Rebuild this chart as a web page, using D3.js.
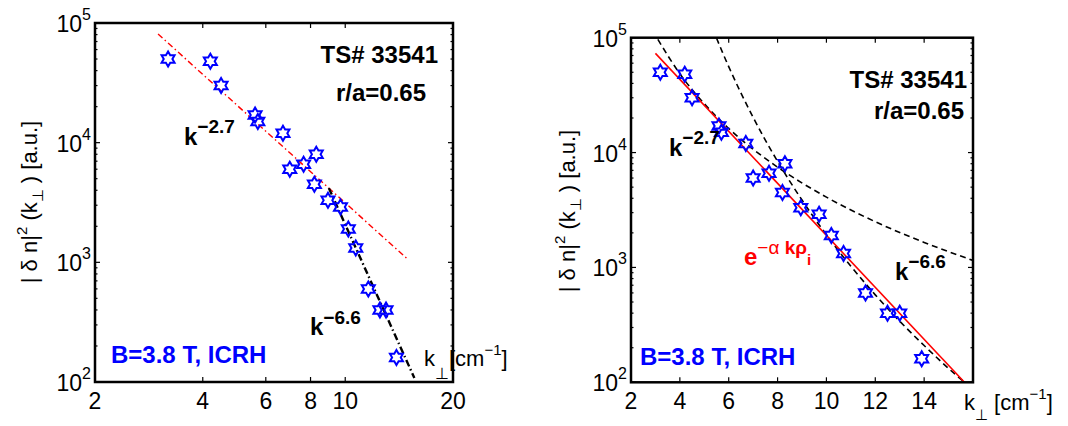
<!DOCTYPE html>
<html>
<head>
<meta charset="utf-8">
<script src="https://cdn.jsdelivr.net/npm/d3@7"></script>
<style>
  body { margin: 0; background: #fff; }
  text { font-family: "Liberation Sans", Arial, Helvetica, sans-serif; }
</style>
</head>
<body>
<svg id="chart" width="1068" height="426"></svg>
<script>
var kPerp = [3.2, 4.2, 4.5, 5.6, 5.7, 6.7, 7.0, 7.65, 8.3, 8.2, 8.95, 9.7, 10.2, 10.7, 11.6, 12.5, 13.0, 13.9];
var dnSpec = [50000, 48000, 30000, 17000, 15000, 12000, 6000, 6600, 8000, 4500, 3300, 2900, 1900, 1320, 600, 400, 400, 160];

// left panel fit lines (straight in log-log, end points)
var fitLow = [[3.0, 80900], [14.85, 1080]];   // k^-2.7
var fitHigh = [[9.0, 4170], [15.6, 108]];     // k^-6.6

// right panel curves
var curveK27 = [[3.1, 96600], [4, 48500], [5, 26600], [6, 16200], [7, 10700], [8, 7470],
  [10, 4090], [12, 2500], [14, 1650], [16, 1150]];
var curveK66 = [[5.5, 99400], [5.75, 74100], [6, 56000], [7, 20250], [8, 8390], [9, 3860],
  [10, 1920], [11, 1025], [12, 577], [13, 340], [14, 209], [15, 132], [15.65, 100]];
var fitExp = [[3.0, 73100], [15.65, 100]];

var xTicksL = [2, 4, 6, 8, 10, 20];
var xTicksR = [2, 4, 6, 8, 10, 12, 14];
var yTicks = [100, 1000, 10000, 100000];
var yExp = ["2", "3", "4", "5"];

var svg = d3.select("#chart");
var blue = "#0000ff", red = "#ff0000";

// six pointed star marker
function hexagram(R) {
  var r = R / Math.sqrt(3), pts = [];
  for (var i = 0; i < 12; i++) {
    var a = -Math.PI / 2 + i * Math.PI / 6, rr = (i % 2) ? r : R;
    pts.push([rr * Math.cos(a), rr * Math.sin(a)]);
  }
  return d3.line()(pts) + "Z";
}
var starPath = hexagram(7.5);

// text with superscript / subscript bits
function richText(g, x, y, parts, opts) {
  var t = g.append("text").attr("x", x).attr("y", y)
    .attr("font-size", opts.size).attr("fill", opts.color || "#000")
    .attr("font-weight", opts.bold ? "bold" : "normal")
    .attr("text-anchor", opts.anchor || "start");
  if (opts.rotate) t.attr("transform", "rotate(-90," + x + "," + y + ")");
  var shift = 0;
  parts.forEach(function(p) {
    var dy = (p.dy || 0) - shift;
    shift = p.dy || 0;
    var s = t.append("tspan").text(p.t).attr("dy", dy);
    if (p.size) s.attr("font-size", p.size);
    if (p.weight) s.attr("font-weight", p.weight);
  });
  return t;
}

function panel(o) {
  var g = svg.append("g");
  var x = o.x, y = o.y;
  var x0 = x.range()[0], x1 = x.range()[1], yb = y.range()[0], yt = y.range()[1];

  g.append("clipPath").attr("id", o.id).append("rect")
    .attr("x", x0).attr("y", yt).attr("width", x1 - x0).attr("height", yb - yt);

  // ticks inside on all four sides
  var tk = g.append("g").attr("stroke", "#000").attr("stroke-width", 1.2);
  o.xTicks.forEach(function(v) {
    tk.append("line").attr("x1", x(v)).attr("x2", x(v)).attr("y1", yb).attr("y2", yb - 5);
    tk.append("line").attr("x1", x(v)).attr("x2", x(v)).attr("y1", yt).attr("y2", yt + 5);
  });
  yTicks.forEach(function(v, i) {
    tk.append("line").attr("x1", x0).attr("x2", x0 + 5).attr("y1", y(v)).attr("y2", y(v));
    tk.append("line").attr("x1", x1).attr("x2", x1 - 5).attr("y1", y(v)).attr("y2", y(v));
    if (i < yTicks.length - 1) {
      d3.range(2, 10).forEach(function(m) {
        var yy = y(v * m);
        tk.append("line").attr("x1", x0).attr("x2", x0 + 2.5).attr("y1", yy).attr("y2", yy);
        tk.append("line").attr("x1", x1).attr("x2", x1 - 2.5).attr("y1", yy).attr("y2", yy);
      });
    }
  });

  // tick labels
  o.xTicks.forEach(function(v) {
    g.append("text").attr("x", x(v)).attr("y", 409).attr("text-anchor", "middle")
      .attr("font-size", 23).text(v);
  });
  yTicks.forEach(function(v, i) {
    richText(g, x0 - 4, y(v) + 9, [{t: "10"}, {t: yExp[i], size: 16, dy: -12}],
      {size: 23, anchor: "end"});
  });

  var plot = g.append("g").attr("clip-path", "url(#" + o.id + ")");
  o.lines.forEach(function(l) {
    plot.append("path").datum(l.data)
      .attr("fill", "none").attr("stroke", l.color).attr("stroke-width", l.width)
      .attr("stroke-dasharray", l.dash)
      .attr("d", d3.line().x(function(d) { return x(d[0]); }).y(function(d) { return y(d[1]); })
        .curve(d3.curveMonotoneX));
  });

  g.append("g").selectAll("path").data(kPerp).enter().append("path")
    .attr("d", starPath)
    .attr("transform", function(d, i) { return "translate(" + x(d) + "," + y(dnSpec[i]) + ")"; })
    .attr("fill", "none").attr("stroke", blue).attr("stroke-width", 2);

  g.append("rect").attr("x", x0).attr("y", yt).attr("width", x1 - x0).attr("height", yb - yt)
    .attr("fill", "none").attr("stroke", "#000").attr("stroke-width", 2.5);

  // y axis title
  richText(g, o.ylabX, o.ylabY, [
    {t: "| δ n|"}, {t: "2", size: 15, dy: -10}, {t: " (k"}, {t: "⊥", size: 15, dy: 6},
    {t: " ) [a.u.]"}], {size: 22, anchor: "middle", rotate: true});
  return g;
}

var xL = d3.scaleLog().domain([2, 20]).range([95, 453]);
var yL = d3.scaleLog().domain([100, 100000]).range([382, 23]);
var xR = d3.scaleLinear().domain([2, 16]).range([631, 973]);
var yR = d3.scaleLog().domain([100, 100000]).range([382.3, 37.7]);

var gL = panel({
  id: "clipL", x: xL, y: yL, xTicks: xTicksL, ylabX: 37, ylabY: 202,
  lines: [
    {data: fitLow, color: red, width: 1.4, dash: "6,3,1.5,3"},
    {data: fitHigh, color: "#000", width: 2.4, dash: "7,3,1.5,3"}
  ]
});
var gR = panel({
  id: "clipR", x: xR, y: yR, xTicks: xTicksR, ylabX: 575, ylabY: 211,
  lines: [
    {data: curveK27, color: "#000", width: 1.6, dash: "6,4"},
    {data: curveK66, color: "#000", width: 1.6, dash: "6,4"},
    {data: fitExp, color: red, width: 1.6, dash: null}
  ]
});

// left annotations
var bold = {size: 24, bold: true};
richText(gL, 438, 63, [{t: "TS# 33541"}], {size: 24, bold: true, anchor: "end"});
richText(gL, 426, 101, [{t: "r/a=0.65"}], {size: 24, bold: true, anchor: "end"});
richText(gL, 184, 145, [{t: "k"}, {t: "−2.7", size: 19, dy: -12}], bold);
richText(gL, 310, 335, [{t: "k"}, {t: "−6.6", size: 19, dy: -11}], bold);
richText(gL, 111, 363, [{t: "B=3.8 T, ICRH"}], {size: 24, bold: true, color: blue});
richText(gL, 424, 366, [{t: "k"}, {t: "⊥", size: 16, dy: 13}, {t: "[cm"},
  {t: "−1", size: 15, dy: -11}, {t: "]"}], {size: 22});

// right annotations
richText(gR, 967, 88, [{t: "TS# 33541"}], {size: 24, bold: true, anchor: "end"});
richText(gR, 964, 119, [{t: "r/a=0.65"}], {size: 24, bold: true, anchor: "end"});
richText(gR, 669, 156, [{t: "k"}, {t: "−2.7", size: 19, dy: -12}], bold);
richText(gR, 895, 280, [{t: "k"}, {t: "−6.6", size: 19, dy: -12}], bold);
richText(gR, 744, 265, [{t: "e"}, {t: "−α ", size: 19, dy: -11, weight: "normal"},
  {t: "kρ", size: 19, dy: -11}, {t: "i", size: 15, dy: 0}],
  {size: 24, bold: true, color: red});
richText(gR, 640, 365, [{t: "B=3.8 T, ICRH"}], {size: 24, bold: true, color: blue});
richText(gR, 964, 410, [{t: "k"}, {t: "⊥", size: 15, dy: 10}, {t: " [cm"},
  {t: "−1", size: 15, dy: -11}, {t: "]"}], {size: 22});
</script>
</body>
</html>
